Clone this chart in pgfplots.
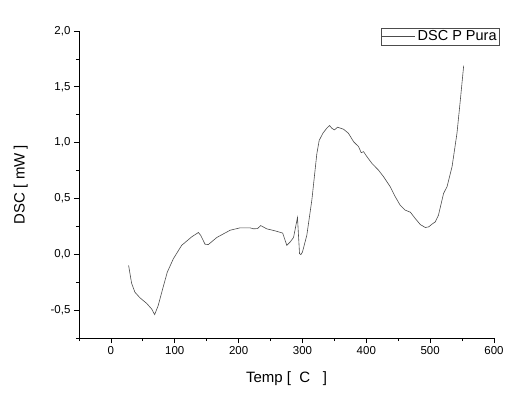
\documentclass[border=0pt]{standalone}
\usepackage{fontspec}
\setmainfont{Liberation Sans}
\usepackage{pgfplots}
\pgfplotsset{compat=1.18}
\begin{document}
\begin{tikzpicture}
\begin{axis}[name=ax,
  scale only axis, width=415bp, height=307bp,
  xmin=-50, xmax=600, ymin=-0.75, ymax=2.0,
  axis lines*=left,
  axis line style={black, line width=0.9pt},
  tick align=outside,
  major tick length=5bp, minor tick length=3bp,
  tick style={black, line width=0.8pt},
  xtick={0,100,...,600}, minor xtick={-50,50,150,250,350,450,550},
  ytick={-0.5,0,0.5,1,1.5,2}, minor ytick={-0.75,-0.25,0.25,0.75,1.25,1.75},
  /pgf/number format/assume math mode=true,
  xticklabel style={font=\fontsize{11.5bp}{13bp}\selectfont},
  yticklabel style={font=\fontsize{11.5bp}{13bp}\selectfont, /pgf/number format/.cd, use comma, fixed, fixed zerofill, precision=1},
  xlabel={Temp [\ \ C\ \ \ ]},
  ylabel={DSC [\ mW\ ]},
  xlabel style={font=\fontsize{15bp}{17bp}\selectfont, yshift=-10bp},
  ylabel style={font=\fontsize{15bp}{17bp}\selectfont, yshift=16bp},
  legend style={at={(rel axis cs:1.013,1.01)}, anchor=north east, draw=black!70, line width=0.6pt,
    font=\fontsize{14.5bp}{16bp}\selectfont, inner sep=0.5bp},
  legend image code/.code={\draw[#1] (0bp,0bp) -- (33bp,0bp);},
  clip=false,
]
\addplot[color=black!70, line width=0.6pt] coordinates {
(27.7,-0.10) (32.4,-0.26) (37.6,-0.34) (45.5,-0.39) (56,-0.44) (63.8,-0.49) (68.5,-0.54)
(74,-0.46) (82,-0.29) (88.3,-0.16) (97.8,-0.04) (110.8,0.08) (126.5,0.156) (137,0.195)
(140.6,0.17) (147.4,0.09) (152.6,0.087) (165.7,0.15) (186.6,0.215) (202.3,0.237) (218,0.237)
(223,0.228) (229.5,0.23) (234.7,0.257) (244,0.228) (257,0.21) (269,0.19) (275.5,0.08)
(280.7,0.11) (286,0.15) (292.2,0.33) (295.4,0.006) (297.5,-0.003) (300,0.02) (306.8,0.17)
(314.7,0.485) (322.5,0.90) (326.2,1.02) (332,1.084) (338,1.129) (342.4,1.153) (346,1.129)
(350,1.114) (355,1.138) (364.3,1.12) (372,1.084) (380,1.009) (387.9,0.964) (392,0.91)
(395.7,0.919) (401,0.874) (408.8,0.814) (419,0.754) (427,0.695) (437.5,0.605) (445.4,0.515)
(453,0.44) (461,0.395) (469,0.377) (476.7,0.32) (484.6,0.266) (492.4,0.24) (497.6,0.245)
(502.9,0.27) (508,0.29) (513,0.35) (521,0.545) (526.4,0.605) (534.3,0.784) (542,1.084)
(547.3,1.383) (552.5,1.689)
};
\addlegendentry{DSC P Pura}
\end{axis}
\pgfresetboundingbox
\path ([shift={(-79bp,-61bp)}]ax.south west) rectangle ([shift={(24bp,31bp)}]ax.north east);
\end{tikzpicture}
\end{document}
